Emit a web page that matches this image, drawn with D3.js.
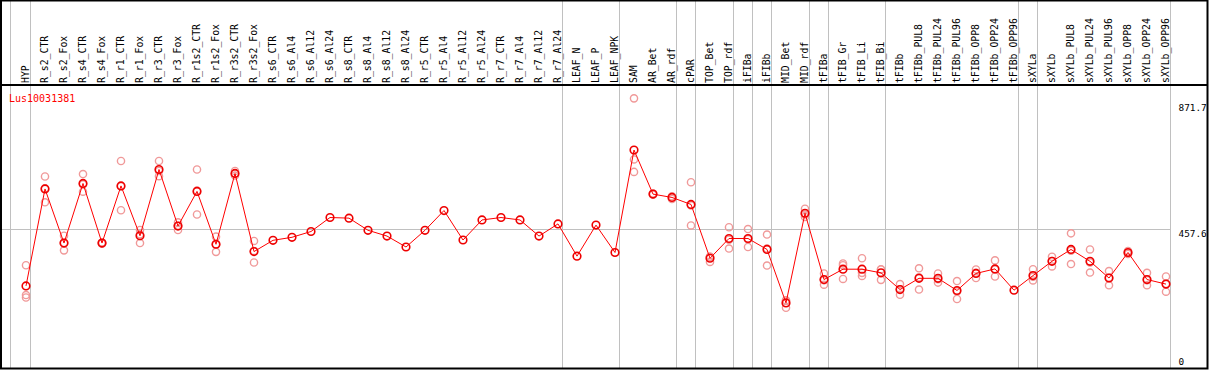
<!DOCTYPE html>
<html>
<head>
<meta charset="utf-8">
<script src="https://cdn.jsdelivr.net/npm/d3@7"></script>
<style>
  body { margin: 0; background: #fff; }
  text { font-family: 'DejaVu Sans Mono', monospace; }
</style>
</head>
<body>
<div id="chart"></div>
<script>
// Sample names (x axis, top header)
const categories = [
  'HYP', 'R_s2_CTR', 'R_s2_Fox', 'R_s4_CTR', 'R_s4_Fox', 'R_r1_CTR', 'R_r1_Fox',
  'R_r3_CTR', 'R_r3_Fox', 'R_r1s2_CTR', 'R_r1s2_Fox', 'R_r3s2_CTR', 'R_r3s2_Fox',
  'R_s6_CTR', 'R_s6_Al4', 'R_s6_Al12', 'R_s6_Al24', 'R_s8_CTR', 'R_s8_Al4', 'R_s8_Al12',
  'R_s8_Al24', 'R_r5_CTR', 'R_r5_Al4', 'R_r5_Al12', 'R_r5_Al24', 'R_r7_CTR', 'R_r7_Al4',
  'R_r7_Al12', 'R_r7_Al24', 'LEAF_N', 'LEAF_P', 'LEAF_NPK', 'SAM', 'AR_Bet', 'AR_rdf',
  'cPAR', 'TOP_Bet', 'TOP_rdf', 'iFIBa', 'iFIBb', 'MID_Bet', 'MID_rdf', 'tFIBa',
  'tFIB_Gr', 'tFIB_Li', 'tFIB_Bi', 'tFIBb', 'tFIBb_PUL8', 'tFIBb_PUL24', 'tFIBb_PUL96',
  'tFIBb_OPP8', 'tFIBb_OPP24', 'tFIBb_OPP96', 'sXYLa', 'sXYLb', 'sXYLb_PUL8',
  'sXYLb_PUL24', 'sXYLb_PUL96', 'sXYLb_OPP8', 'sXYLb_OPP24', 'sXYLb_OPP96'
];

// last sample of each group (gray separator drawn after it)
const groupEnds = ['HYP', 'R_r7_Al24', 'LEAF_NPK', 'AR_rdf', 'cPAR', 'TOP_rdf', 'iFIBa',
  'iFIBb', 'MID_rdf', 'tFIBa', 'tFIB_Bi', 'tFIBb_OPP96', 'sXYLa', 'sXYLb_OPP96'];

// mean expression per sample
const means = [
  269, 588, 410, 606, 410, 598, 434, 652, 466, 580, 406, 639, 382,
  419, 429, 448, 494, 492, 452, 433, 397, 452, 517, 420, 486, 494, 486, 433, 473,
  367, 469, 379, 716, 571, 560, 537, 360, 425, 425, 389, 213, 508, 290,
  324, 324, 312, 257, 294, 294, 254, 310, 325, 255, 303, 350, 389, 350, 295, 379, 290, 275
];

// replicate values per sample
const replicates = [
  [337, 239, 231], [629, 544, 590], [434, 386, 410], [637, 579, 603], [410, 408, 412],
  [680, 518, 597], [453, 410, 439], [680, 630, 647], [478, 453, 467], [652, 504, 583],
  [431, 381, 405], [647, 639, 632], [417, 346, 384],
  [], [], [], [], [], [], [], [], [], [], [], [], [], [], [], [],
  [], [], [],
  [886, 685, 644], [569, 573], [555, 564], [610, 468, 534], [348, 365, 365],
  [462, 392, 421], [456, 397, 423], [438, 336, 392], [197, 222, 221], [523, 496, 504],
  [310, 273, 288], [337, 292, 343], [360, 302, 312], [323, 289, 324], [275, 240, 258],
  [327, 257, 297], [310, 280, 291], [285, 226, 251], [323, 295, 312], [353, 300, 323],
  [], [324, 287, 299], [365, 333, 351], [442, 341, 385], [389, 313, 346],
  [318, 271, 296], [384, 377, 374], [312, 271, 288], [300, 250, 275]
];

const title = 'Lus10031381';
const yTickValues = [0, 457.6, 871.7];

const width = 1209;
const height = 370;

const svg = d3.select('#chart')
  .append('svg')
    .attr('width', width)
    .attr('height', height);

svg.append('rect')
  .attr('width', width)
  .attr('height', height)
  .attr('fill', '#fff');

const x = d3.scalePoint()
  .domain(categories)
  .range([26, 26 + 19 * (categories.length - 1)]);

const y = d3.scaleLinear()
  .domain([0, 871.7])
  .range([367.7, 102.7]);

const axisX = 1170.5;

// gray separators (left one before the first sample)
const sepX = [x(categories[0]) - 15.5].concat(groupEnds.map((c) => Math.floor(x(c) + 4.5) + 0.5));
svg.append('g')
  .selectAll('line')
  .data(sepX)
  .join('line')
    .attr('x1', (d) => d)
    .attr('x2', (d) => d)
    .attr('y1', 0)
    .attr('y2', 368)
    .attr('stroke', '#c0c0c0')
    .attr('stroke-width', 1);

// horizontal reference line
svg.append('line')
  .attr('x1', 2)
  .attr('x2', axisX)
  .attr('y1', Math.round(y(457.6)) + 0.5)
  .attr('y2', Math.round(y(457.6)) + 0.5)
  .attr('stroke', '#c0c0c0')
  .attr('stroke-width', 1);

// frame + header divider
svg.append('rect')
  .attr('x', 1)
  .attr('y', 0.5)
  .attr('width', 1206.5)
  .attr('height', 368)
  .attr('fill', 'none')
  .attr('stroke', '#000')
  .attr('stroke-width', 2);
svg.append('line')
  .attr('x1', 0)
  .attr('x2', 1208)
  .attr('y1', 85)
  .attr('y2', 85)
  .attr('stroke', '#000')
  .attr('stroke-width', 2);

// sample labels, rotated
svg.append('g')
  .selectAll('text')
  .data(categories)
  .join('text')
    .attr('transform', (d) => 'translate(' + (x(d) + 2.5) + ',83) rotate(-90)')
    .attr('font-size', '9.8px')
    .attr('fill', '#000')
    .text((d) => d);

// right value labels
svg.append('g')
  .selectAll('text')
  .data(yTickValues)
  .join('text')
    .attr('x', 1178.5)
    .attr('y', (d) => Math.min(y(d) + 8.5, 365))
    .attr('font-size', '9.4px')
    .attr('fill', '#000')
    .text((d) => d);

// title
svg.append('text')
  .attr('x', 9)
  .attr('y', 101.5)
  .attr('font-size', '10px')
  .attr('fill', '#ff0000')
  .text(title);

// replicate points
const reps = [];
replicates.forEach((vals, i) => vals.forEach((v) => reps.push({ c: categories[i], v: v })));
svg.append('g')
  .selectAll('circle')
  .data(reps)
  .join('circle')
    .attr('cx', (d) => x(d.c))
    .attr('cy', (d) => y(d.v))
    .attr('r', 3.6)
    .attr('fill', 'none')
    .attr('stroke', '#f09999')
    .attr('stroke-width', 1.4);

// mean line
const meanData = categories.map((c, i) => ({ c: c, v: means[i] }));
svg.append('path')
  .datum(meanData)
  .attr('fill', 'none')
  .attr('stroke', '#ff0000')
  .attr('stroke-width', 1)
  .attr('d', d3.line()
    .x((d) => x(d.c))
    .y((d) => y(d.v))
  );

// mean points
svg.append('g')
  .selectAll('circle')
  .data(meanData)
  .join('circle')
    .attr('cx', (d) => x(d.c))
    .attr('cy', (d) => y(d.v))
    .attr('r', 3.8)
    .attr('fill', 'none')
    .attr('stroke', '#ee0000')
    .attr('stroke-width', 1.6);
</script>
</body>
</html>
